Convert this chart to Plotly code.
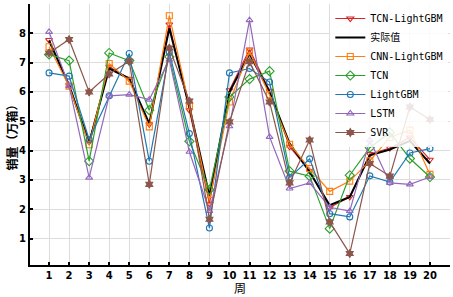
import plotly.graph_objects as go

weeks = list(range(1, 21))
tcn_lgbm = [7.77, 6.23, 4.30, 6.86, 6.45, 4.90, 8.30, 5.38, 2.19, 6.06, 7.45, 6.04, 4.13, 3.30, 2.06, 2.42, 3.88, 4.09, 4.45, 3.69]
actual   = [7.75, 6.23, 4.26, 6.80, 6.46, 4.92, 8.17, 5.50, 2.45, 6.00, 7.30, 6.00, 4.24, 3.27, 2.14, 2.42, 3.84, 4.04, 4.33, 3.56]
cnn_lgbm = [7.54, 6.20, 4.20, 6.97, 6.37, 4.81, 8.60, 5.52, 2.30, 5.66, 7.37, 5.90, 4.22, 3.39, 2.61, 2.96, 3.65, 4.45, 4.70, 3.19]
tcn      = [7.28, 7.07, 3.64, 7.33, 7.07, 5.38, 7.20, 4.32, 2.67, 5.83, 6.44, 6.71, 3.30, 3.13, 1.34, 3.16, 4.10, 4.62, 3.73, 3.10]
lgbm     = [6.65, 6.54, 4.38, 5.87, 7.31, 3.64, 7.35, 4.58, 1.36, 6.65, 6.80, 6.34, 3.08, 3.72, 1.85, 1.74, 3.14, 2.93, 3.92, 4.07]
lstm     = [8.05, 6.20, 3.08, 5.87, 5.91, 5.74, 7.10, 3.96, 1.94, 4.83, 8.45, 4.47, 2.71, 2.90, 2.07, 1.94, 4.36, 2.90, 2.85, 3.10]
svr      = [7.33, 7.79, 6.00, 6.61, 7.05, 2.85, 7.50, 5.69, 1.66, 4.98, 7.03, 5.66, 2.90, 4.36, 1.57, 0.49, 3.56, 3.13, 5.49, 5.06]

x_ticks = list(range(1, 21))
y_ticks = [1, 2, 3, 4, 5, 6, 7, 8]

fig = go.Figure()

def add(name, y, color, symbol, width=1.2, msize=6):
    marker = dict(symbol=symbol, size=msize, color=color,
                  line=dict(color=color, width=1.1))
    fig.add_trace(go.Scatter(x=weeks, y=y, name=name, mode="lines+markers",
                             line=dict(color=color, width=width),
                             marker=marker))

add("TCN-LightGBM", tcn_lgbm, "#d62728", "triangle-down-open")
fig.add_trace(go.Scatter(x=weeks, y=actual, name="实际值", mode="lines",
                         line=dict(color="black", width=2)))
add("CNN-LightGBM", cnn_lgbm, "#ff7f0e", "square-open")
add("TCN", tcn, "#2ca02c", "diamond-open", msize=7)
add("LightGBM", lgbm, "#1f77b4", "circle-open")
add("LSTM", lstm, "#9467bd", "triangle-up-open")
add("SVR", svr, "#8c564b", "hexagram", msize=6)

tickfont = dict(family="DejaVu Sans", size=10, color="black", weight="bold")

fig.update_layout(
    width=453, height=297,
    margin=dict(l=30, r=3, t=4, b=32, autoexpand=False),
    paper_bgcolor="white", plot_bgcolor="white",
    showlegend=True,
    legend=dict(x=0.715, y=1.0, xanchor="left", yanchor="top",
                bgcolor="rgba(255,255,255,0.85)", borderwidth=0,
                font=dict(family="DejaVu Sans Mono, Noto Sans CJK SC", size=10, color="black"),
                tracegroupgap=0, itemwidth=30),
    xaxis=dict(range=[0.05, 21], tickvals=x_ticks, ticktext=[str(v) for v in x_ticks],
               showgrid=True, gridcolor="#dcdcdc", gridwidth=1,
               showline=True, linecolor="black", linewidth=2,
               ticks="inside", ticklen=3, tickcolor="black", tickwidth=1.5,
               tickfont=tickfont, zeroline=False, automargin=False),
    yaxis=dict(range=[0.1, 9.0], tickvals=y_ticks, ticktext=[str(v) for v in y_ticks],
               showgrid=True, gridcolor="#dcdcdc", gridwidth=1,
               showline=True, linecolor="black", linewidth=2,
               ticks="inside", ticklen=3, tickcolor="black", tickwidth=1.5,
               tickfont=tickfont, zeroline=False, automargin=False),
    annotations=[
        dict(text="周", xref="paper", yref="paper", x=0.5, y=0, yshift=-22,
             xanchor="center", yanchor="middle", showarrow=False,
             font=dict(family="Noto Sans CJK SC", size=12, color="black")),
        dict(text="销量（万箱）", xref="paper", yref="paper", x=0, xshift=-19, y=0.5,
             xanchor="center", yanchor="middle", textangle=-90, showarrow=False,
             font=dict(family="Noto Sans CJK SC", size=12, color="black", weight="bold")),
    ],
)

fig.write_html("out.html", config={"displayModeBar": False},
               post_script="document.body.style.margin='0';document.body.style.overflow='hidden';")
